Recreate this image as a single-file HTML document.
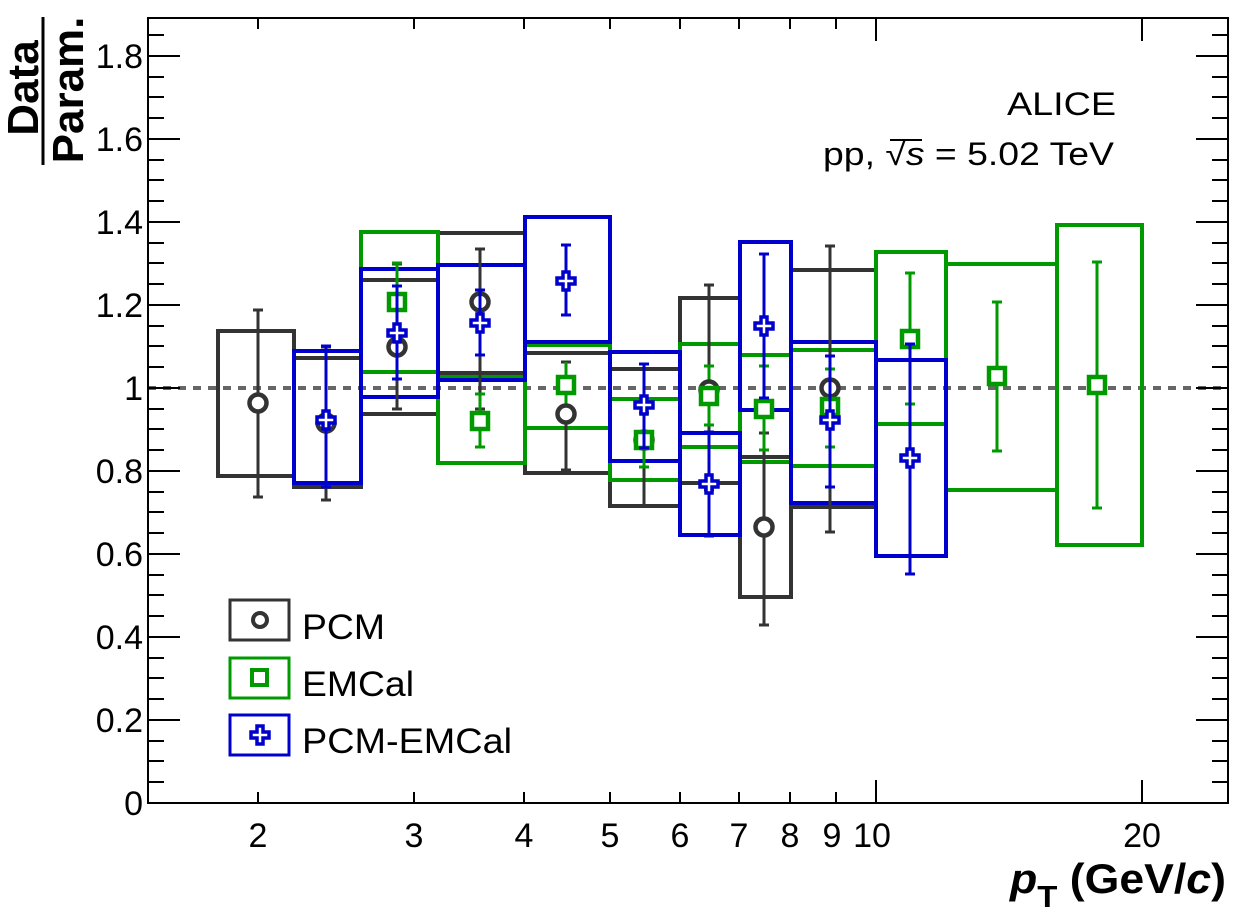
<!DOCTYPE html>
<html><head><meta charset="utf-8"><style>
html,body{margin:0;padding:0;background:#fff;}
svg{display:block;font-family:"Liberation Sans",sans-serif;}
</style></head><body>
<svg width="1240" height="914" viewBox="0 0 1240 914" xmlns="http://www.w3.org/2000/svg">
<defs>
<polygon id="plus" points="-3,-9 3,-9 3,-3 9,-3 9,3 3,3 3,9 -3,9 -3,3 -9,3 -9,-3 -3,-3" fill="#fff" stroke="#0000cc" stroke-width="3.5"/>
<rect id="sq" x="-8" y="-8" width="16" height="16" fill="#fff" stroke="#009900" stroke-width="4.5"/>
<circle id="ci" r="8.5" fill="#fff" stroke="#333" stroke-width="4.5"/>
</defs>
<rect width="1240" height="914" fill="#fff"/>

<line x1="148" y1="388" x2="1228" y2="388" stroke="#666" stroke-width="4" stroke-dasharray="8,7"/>

<g fill="none" stroke="#333" stroke-width="4">
<rect x="218" y="331" width="76" height="145"/>
<rect x="294" y="358" width="67" height="129"/>
<rect x="361" y="280" width="77" height="134"/>
<rect x="438" y="233" width="87" height="140"/>
<rect x="525" y="353" width="85" height="120"/>
<rect x="610" y="369" width="70" height="137"/>
<rect x="680" y="298" width="60" height="185"/>
<rect x="740" y="457" width="51" height="140"/>
<rect x="791" y="270" width="85" height="237"/>
</g>
<g fill="none" stroke="#009900" stroke-width="4">
<rect x="361" y="232" width="77" height="140"/>
<rect x="438" y="377" width="87" height="86"/>
<rect x="525" y="345" width="85" height="83"/>
<rect x="610" y="399" width="70" height="81"/>
<rect x="680" y="344" width="60" height="103"/>
<rect x="740" y="355" width="51" height="107"/>
<rect x="791" y="350" width="85" height="116"/>
<rect x="876" y="252" width="70" height="172"/>
<line x1="946" y1="264" x2="1057" y2="264"/>
<line x1="946" y1="490" x2="1057" y2="490"/>
<line x1="946" y1="252" x2="946" y2="264"/>
<rect x="1057" y="225" width="85" height="320"/>
</g>
<g fill="none" stroke="#0000cc" stroke-width="4">
<rect x="294" y="351" width="67" height="132"/>
<rect x="361" y="269" width="77" height="128"/>
<rect x="438" y="265" width="87" height="115"/>
<rect x="525" y="217" width="85" height="125"/>
<rect x="610" y="352" width="70" height="109"/>
<rect x="680" y="433" width="60" height="102"/>
<rect x="740" y="242" width="51" height="168"/>
<rect x="791" y="342" width="85" height="161"/>
<rect x="876" y="360" width="70" height="196"/>
</g>

<g stroke="#333" stroke-width="3">
<path d="M258 310V497M253 310h10M253 497h10"/>
<path d="M326 347V500M321 347h10M321 500h10"/>
<path d="M397 264V409M392 264h10M392 409h10"/>
<path d="M480 249V409M475 249h10M475 409h10"/>
<path d="M566 362V470M561 362h10M561 470h10"/>
<path d="M644 366V506"/>
<path d="M709 285V490M704 285h10M704 490h10"/>
<path d="M764 433V625M759 433h10M759 625h10"/>
<path d="M830 246V532M825 246h10M825 532h10"/>
</g>
<g stroke="#009900" stroke-width="3">
<path d="M397 263V345M392 263h10"/>
<path d="M480 394V447M475 394h10M475 447h10"/>
<path d="M566 362V410"/>
<path d="M644 413V467M639 413h10M639 467h10"/>
<path d="M709 366V425M704 366h10M704 425h10"/>
<path d="M764 366V450M759 366h10M759 450h10"/>
<path d="M830 369V447M825 369h10M825 447h10"/>
<path d="M910 273V404M905 273h10M905 404h10"/>
<path d="M997 302V451M992 302h10M992 451h10"/>
<path d="M1097 262V508M1092 262h10M1092 508h10"/>
</g>
<g>
<use href="#ci" x="258" y="403"/><use href="#ci" x="326" y="423"/><use href="#ci" x="397" y="347"/>
<use href="#ci" x="480" y="302"/><use href="#ci" x="566" y="414"/><use href="#ci" x="644" y="440"/>
<use href="#ci" x="709" y="390"/><use href="#ci" x="764" y="527"/><use href="#ci" x="830" y="388"/>
</g>
<g>
<use href="#sq" x="397" y="302"/><use href="#sq" x="480" y="421"/><use href="#sq" x="566" y="385"/>
<use href="#sq" x="644" y="440"/><use href="#sq" x="709" y="396"/><use href="#sq" x="764" y="409"/>
<use href="#sq" x="830" y="407"/><use href="#sq" x="910" y="339"/><use href="#sq" x="997" y="376"/>
<use href="#sq" x="1097" y="385"/>
</g>
<g stroke="#0000cc" stroke-width="3">
<path d="M326 346V487M321 346h10M321 487h10"/>
<path d="M397 286V379M392 286h10M392 379h10"/>
<path d="M480 290V355M475 290h10M475 355h10"/>
<path d="M566 245V315M561 245h10M561 315h10"/>
<path d="M644 364V448M639 364h10M639 448h10"/>
<path d="M709 432V536M704 432h10M704 536h10"/>
<path d="M764 254V398M759 254h10M759 398h10"/>
<path d="M830 356V487M825 356h10M825 487h10"/>
<path d="M910 344V574M905 344h10M905 574h10"/>
</g>
<g>
<use href="#plus" x="326" y="420"/><use href="#plus" x="397" y="333"/><use href="#plus" x="480" y="323"/>
<use href="#plus" x="566" y="281"/><use href="#plus" x="644" y="405"/><use href="#plus" x="709" y="484"/>
<use href="#plus" x="764" y="326"/><use href="#plus" x="830" y="420"/><use href="#plus" x="910" y="458"/>
</g>

<rect x="148" y="18" width="1080" height="785" fill="none" stroke="#000" stroke-width="2"/>
<g stroke="#000" stroke-width="2">
<path d="M148 803h32M148 720h32M148 637h32M148 554h32M148 471h32M148 388h32M148 305h32M148 222h32M148 139h32M148 56h32"/>
<path d="M1228 803h-32M1228 720h-32M1228 637h-32M1228 554h-32M1228 471h-32M1228 388h-32M1228 305h-32M1228 222h-32M1228 139h-32M1228 56h-32"/>
<path d="M148 782h16M148 761h16M148 741h16M148 699h16M148 678h16M148 658h16M148 616h16M148 595h16M148 575h16M148 533h16M148 512h16M148 492h16M148 450h16M148 429h16M148 409h16M148 367h16M148 346h16M148 326h16M148 284h16M148 263h16M148 243h16M148 201h16M148 180h16M148 160h16M148 118h16M148 97h16M148 77h16M148 35h16"/>
<path d="M1228 782h-16M1228 761h-16M1228 741h-16M1228 699h-16M1228 678h-16M1228 658h-16M1228 616h-16M1228 595h-16M1228 575h-16M1228 533h-16M1228 512h-16M1228 492h-16M1228 450h-16M1228 429h-16M1228 409h-16M1228 367h-16M1228 346h-16M1228 326h-16M1228 284h-16M1228 263h-16M1228 243h-16M1228 201h-16M1228 180h-16M1228 160h-16M1228 118h-16M1228 97h-16M1228 77h-16M1228 35h-16"/>
<path d="M258 803v-11M414 803v-11M524 803v-11M610 803v-11M680 803v-11M739 803v-11M790 803v-11M836 803v-11M876 803v-23M1142 803v-23"/>
<path d="M258 18v11M414 18v11M524 18v11M610 18v11M680 18v11M739 18v11M790 18v11M836 18v11M876 18v23M1142 18v23"/>
</g>
<g font-size="34" text-anchor="end" fill="#000">
<text x="143" y="815">0</text><text x="143" y="732">0.2</text><text x="143" y="649">0.4</text>
<text x="143" y="566">0.6</text><text x="143" y="483">0.8</text><text x="143" y="400">1</text>
<text x="143" y="317">1.2</text><text x="143" y="234">1.4</text><text x="143" y="151">1.6</text>
<text x="143" y="68">1.8</text>
</g>
<g font-size="34" text-anchor="middle" fill="#000">
<text x="258" y="847">2</text><text x="414" y="847">3</text><text x="524" y="847">4</text>
<text x="610" y="847">5</text><text x="680" y="847">6</text><text x="739" y="847">7</text>
<text x="790" y="847">8</text><text x="832" y="847">9</text><text x="872" y="847">10</text>
<text x="1142" y="847">20</text>
</g>
<text x="1010" y="893" font-size="42" font-weight="bold" textLength="216" lengthAdjust="spacingAndGlyphs"><tspan font-style="italic">p</tspan><tspan font-size="31" dy="14">T</tspan><tspan dy="-14"> (GeV/</tspan><tspan font-style="italic">c</tspan>)</text>
<g transform="rotate(-90)" font-weight="bold" font-size="44" text-anchor="middle">
<text x="-88" y="38">Data</text>
<text x="-90" y="83">Param.</text>
</g>
<line x1="43" y1="17" x2="43" y2="165" stroke="#000" stroke-width="3"/>
<text x="1007" y="115" font-size="32" textLength="109" lengthAdjust="spacingAndGlyphs">ALICE</text>
<text x="823" y="165" font-size="32" textLength="291" lengthAdjust="spacingAndGlyphs">pp, √<tspan font-style="italic">s</tspan> = 5.02 TeV</text>
<line x1="890" y1="140" x2="922" y2="140" stroke="#000" stroke-width="2"/>
<g stroke-width="3" fill="none">
<rect x="230" y="600" width="59" height="40" stroke="#333"/>
<rect x="230" y="658" width="59" height="40" stroke="#009900"/>
<rect x="230" y="715" width="59" height="40" stroke="#0000cc"/>
</g>
<circle cx="260" cy="620" r="7" fill="#fff" stroke="#333" stroke-width="4"/>
<rect x="252" y="670" width="15" height="15" fill="#fff" stroke="#009900" stroke-width="4"/>
<use href="#plus" x="260" y="735"/>
<g font-size="35" fill="#000">
<text x="302" y="639" textLength="83" lengthAdjust="spacingAndGlyphs">PCM</text>
<text x="302" y="696" textLength="112" lengthAdjust="spacingAndGlyphs">EMCal</text>
<text x="302" y="753" textLength="210" lengthAdjust="spacingAndGlyphs">PCM-EMCal</text>
</g>
</svg>
</body></html>
